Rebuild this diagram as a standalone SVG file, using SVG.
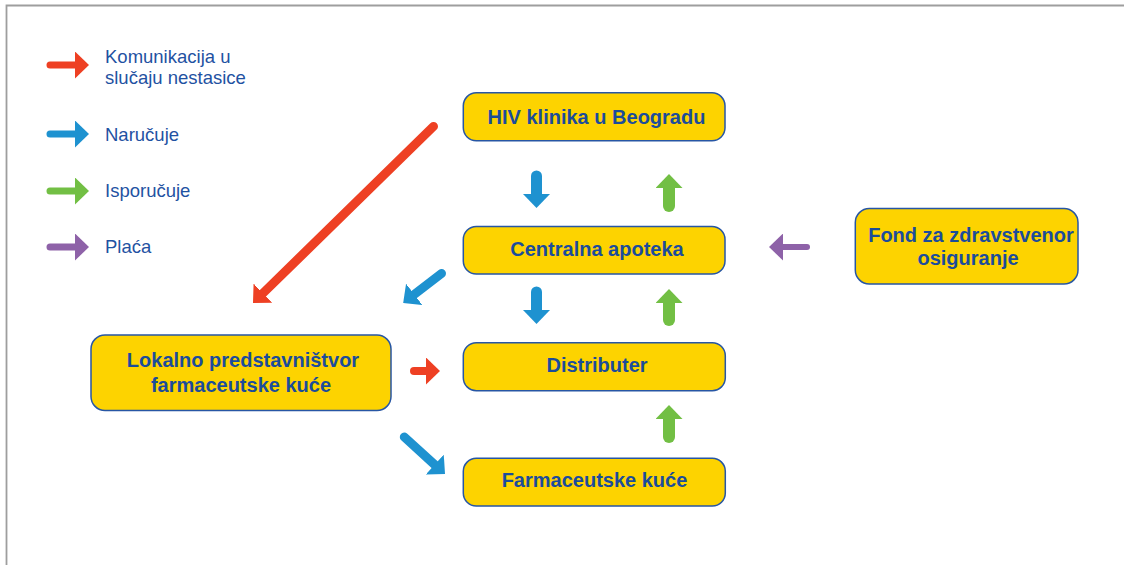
<svg xmlns="http://www.w3.org/2000/svg" width="1124" height="565" viewBox="0 0 1124 565">
<style>
.node rect{fill:#FDD300;stroke:#2756A4;stroke-width:1.5}
.node text{font-family:"Liberation Sans",Arial,sans-serif;font-weight:bold;font-size:20px;fill:#1B4C9B;text-anchor:middle}
.leg{font-family:"Liberation Sans",Arial,sans-serif;font-size:18.5px;fill:#1F52A2}
.a{fill:none;stroke-linecap:round}
.r{stroke:#EE4023}.b{stroke:#1E92D0}.g{stroke:#72BF44}.p{stroke:#8E62A8}
</style>
<defs>
<marker id="hr" viewBox="0 0 14 27" refX="1" refY="13.5" markerWidth="14" markerHeight="27" markerUnits="userSpaceOnUse" orient="auto"><path d="M0,0L14,13.5L0,27z" fill="#EE4023"/></marker>
<marker id="hb" viewBox="0 0 14 27" refX="1" refY="13.5" markerWidth="14" markerHeight="27" markerUnits="userSpaceOnUse" orient="auto"><path d="M0,0L14,13.5L0,27z" fill="#1E92D0"/></marker>
<marker id="hg" viewBox="0 0 14 27" refX="1" refY="13.5" markerWidth="14" markerHeight="27" markerUnits="userSpaceOnUse" orient="auto"><path d="M0,0L14,13.5L0,27z" fill="#72BF44"/></marker>
<marker id="hp" viewBox="0 0 14 27" refX="1" refY="13.5" markerWidth="14" markerHeight="27" markerUnits="userSpaceOnUse" orient="auto"><path d="M0,0L14,13.5L0,27z" fill="#8E62A8"/></marker>
</defs>
<rect width="1124" height="565" fill="#fff"/>
<path d="M6.5,565V5.5H1124" fill="none" stroke="#9E9E9E" stroke-width="1.8"/>
<g id="legend">
<line class="a r" x1="50" y1="65" x2="76" y2="65" stroke-width="7" marker-end="url(#hr)"/>
<line class="a b" x1="50" y1="134" x2="76" y2="134" stroke-width="7" marker-end="url(#hb)"/>
<line class="a g" x1="50" y1="191" x2="76" y2="191" stroke-width="7" marker-end="url(#hg)"/>
<line class="a p" x1="50" y1="247" x2="76" y2="247" stroke-width="7" marker-end="url(#hp)"/>
<text class="leg" x="105" y="62.5">Komunikacija u</text>
<text class="leg" x="105" y="83.5">slučaju nestasice</text>
<text class="leg" x="105" y="140.5">Naručuje</text>
<text class="leg" x="105" y="196.5">Isporučuje</text>
<text class="leg" x="105" y="253">Plaća</text>
</g>
<g id="connectors">
<line class="a r" x1="433.5" y1="126.4" x2="262.3" y2="293.9" stroke-width="9" marker-end="url(#hr)"/>
<line class="a b" x1="536.5" y1="176" x2="536.5" y2="195" stroke-width="11" marker-end="url(#hb)"/>
<line class="a g" x1="669" y1="206" x2="669" y2="187" stroke-width="12" marker-end="url(#hg)"/>
<line class="a b" x1="536.5" y1="292" x2="536.5" y2="311" stroke-width="11" marker-end="url(#hb)"/>
<line class="a g" x1="669" y1="320" x2="669" y2="302" stroke-width="12" marker-end="url(#hg)"/>
<line class="a g" x1="669" y1="437" x2="669" y2="418" stroke-width="12" marker-end="url(#hg)"/>
<line class="a b" x1="441.5" y1="273.5" x2="413.5" y2="295" stroke-width="9" marker-end="url(#hb)"/>
<line class="a b" x1="404.3" y1="437" x2="435.4" y2="465.3" stroke-width="9" marker-end="url(#hb)"/>
<line class="a r" x1="414" y1="371" x2="427" y2="371" stroke-width="8" marker-end="url(#hr)"/>
<line class="a p" x1="807" y1="247" x2="782" y2="247" stroke-width="6" marker-end="url(#hp)"/>
</g>
<g id="hiv" class="node"><rect x="463.3" y="92.8" width="261.7" height="48" rx="13"/><text x="596.5" y="124">HIV klinika u Beogradu</text></g>
<g id="centralna" class="node"><rect x="463.3" y="226.5" width="261.7" height="47.5" rx="13"/><text x="597" y="256">Centralna apoteka</text></g>
<g id="distributer" class="node"><rect x="463.3" y="342.7" width="262" height="48" rx="13"/><text x="597" y="371.7">Distributer</text></g>
<g id="farmaceutske" class="node"><rect x="463.3" y="458.3" width="262" height="47.7" rx="13"/><text x="594.5" y="487.3">Farmaceutske kuće</text></g>
<g id="lokalno" class="node"><rect x="91" y="335" width="300" height="75.5" rx="14"/><text x="243" y="366.7">Lokalno predstavništvor</text><text x="241" y="391.7">farmaceutske kuće</text></g>
<g id="fond" class="node"><rect x="855.3" y="208.5" width="222.7" height="75.5" rx="14"/><text x="971" y="241.7">Fond za zdravstvenor</text><text x="968" y="265">osiguranje</text></g>
</svg>
